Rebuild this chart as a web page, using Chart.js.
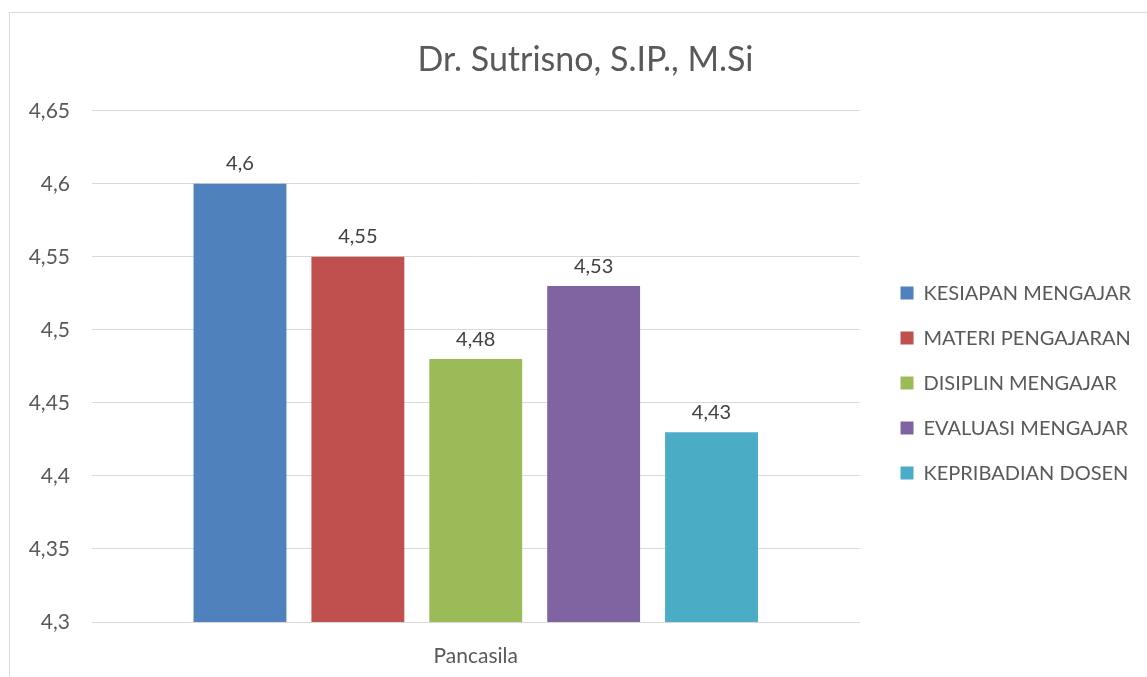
<!DOCTYPE html>
<html>
<head>
<meta charset="utf-8">
<script src="https://cdn.jsdelivr.net/npm/chart.js@4"></script>
<style>
  html, body { margin: 0; padding: 0; background: #fff; }
  #wrap { width: 1147px; height: 677px; }
</style>
</head>
<body>
<div id="wrap"><canvas id="chart" width="1147" height="677"></canvas></div>
<script>
const chartTitle = 'Dr. Sutrisno, S.IP., M.Si'
const categories = ['Pancasila']
const seriesNames = ['KESIAPAN MENGAJAR', 'MATERI PENGAJARAN', 'DISIPLIN MENGAJAR', 'EVALUASI MENGAJAR', 'KEPRIBADIAN DOSEN']
const seriesValues = [4.6, 4.55, 4.48, 4.53, 4.43]
const seriesColors = ['#4F81BD', '#C0504D', '#9BBB59', '#8064A2', '#4BACC6']
const yMin = 4.3
const yMax = 4.65
const yStep = 0.05

const fontFamily = 'Lato, "Open Sans", sans-serif'

// 4.55 -> "4,55"
const fmt = (v) => String(Math.round(v * 100) / 100).replace('.', ',')

const datasets = seriesNames.map((name, i) => ({
    label: name,
    data: [seriesValues[i]],
    backgroundColor: seriesColors[i],
    borderWidth: 0
}))

// frame round the chart, like the office chart border
const framePlugin = {
    id: 'frame',
    beforeDraw(chart) {
        const c = chart.ctx
        c.save()
        c.strokeStyle = '#d9d9d9'
        c.lineWidth = 1
        c.strokeRect(9.5, 12.5, 1300, 800)
        c.restore()
    }
}

// nudge legend a bit away from the plot, and title to the right
const nudge = {
    id: 'nudge',
    afterLayout(chart) {
        if (chart.legend) {
            chart.legend.left += 16
            chart.legend.right += 16
        }
        if (chart.titleBlock) {
            chart.titleBlock.left += 18
            chart.titleBlock.right += 18
        }
    }
}

// value labels above each bar
const valueLabels = {
    id: 'valueLabels',
    afterDatasetsDraw(chart) {
        const c = chart.ctx
        c.save()
        c.font = '20px ' + fontFamily
        c.fillStyle = '#404040'
        c.textAlign = 'center'
        c.textBaseline = 'bottom'
        chart.data.datasets.forEach((ds, i) => {
            const meta = chart.getDatasetMeta(i)
            meta.data.forEach((bar, j) => {
                c.fillText(fmt(ds.data[j]), bar.x, bar.y - 10)
            })
        })
        c.restore()
    }
}

new Chart(document.getElementById('chart'), {
    type: 'bar',
    data: {
        labels: categories,
        datasets: datasets
    },
    options: {
        responsive: false,
        animation: false,
        events: [],
        categoryPercentage: 0.768,
        barPercentage: 0.788,
        layout: {
            padding: { left: 10, top: 12, right: 22, bottom: 0 }
        },
        plugins: {
            title: {
                display: true,
                text: chartTitle,
                color: '#595959',
                font: { family: fontFamily, size: 34, weight: 'normal' },
                padding: { top: 28, bottom: 30 }
            },
            legend: {
                display: true,
                position: 'right',
                // empty title only pushes the items down
                title: {
                    display: true,
                    text: ' ',
                    font: { size: 1 },
                    padding: { top: 0, bottom: 76 }
                },
                labels: {
                    boxWidth: 13,
                    boxHeight: 13,
                    padding: 25,
                    color: '#595959',
                    font: { family: fontFamily, size: 20 }
                }
            },
            tooltip: { enabled: false }
        },
        scales: {
            x: {
                grid: { display: false },
                border: { color: '#d9d9d9' },
                ticks: {
                    color: '#595959',
                    padding: 14,
                    font: { family: fontFamily, size: 21 }
                },
                afterFit(scale) { scale.height = 55 }
            },
            y: {
                min: yMin,
                max: yMax,
                grid: { color: '#d9d9d9', drawTicks: false },
                border: { display: false },
                ticks: {
                    stepSize: yStep,
                    color: '#595959',
                    padding: 22,
                    font: { family: fontFamily, size: 21 },
                    callback: (v) => fmt(v)
                },
                afterFit(scale) { scale.width = 82 }
            }
        }
    },
    plugins: [framePlugin, nudge, valueLabels]
})
</script>
</body>
</html>
